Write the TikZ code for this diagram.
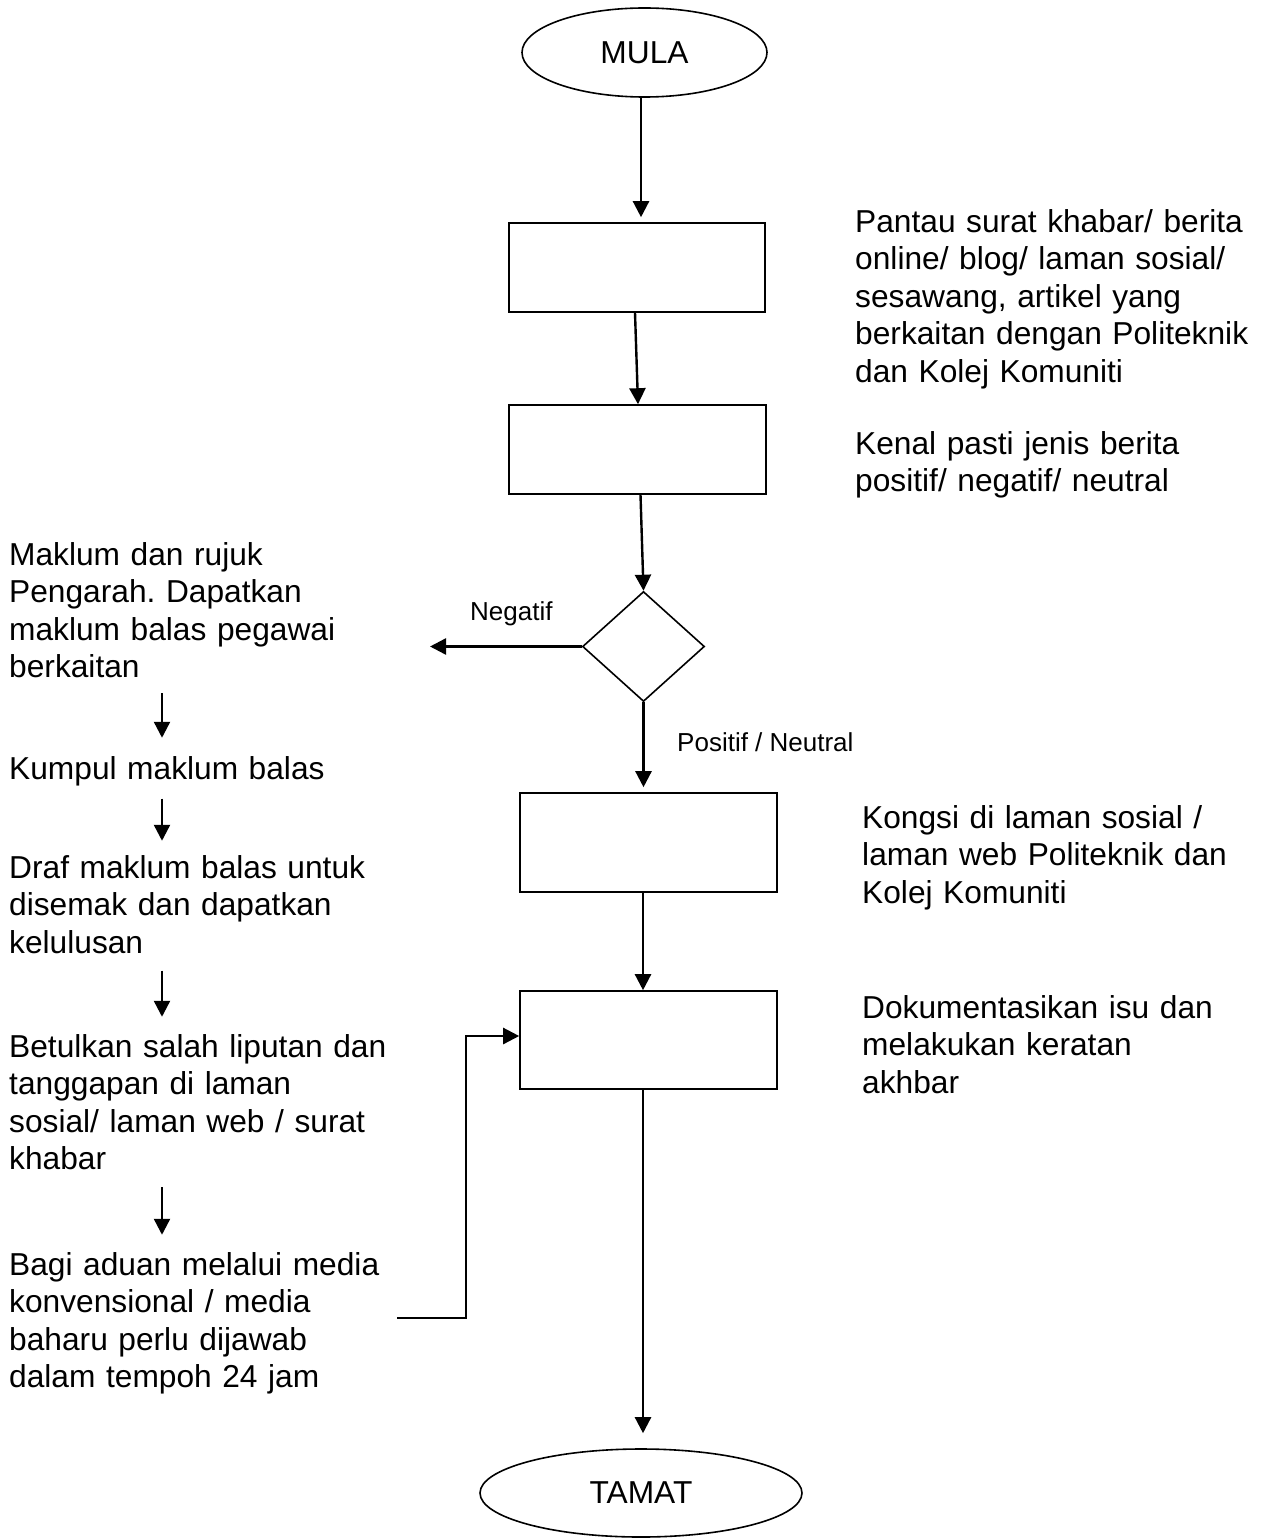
\documentclass[tikz,border=0pt]{standalone}
\usepackage{fontspec}
\setmainfont{Liberation Sans}
\usetikzlibrary{shapes.geometric,arrows.meta,calc}

\newcommand\txtbig{\fontsize{31.7pt}{37.5pt}\selectfont\frenchspacing}
\newcommand\txtsmall{\fontsize{26pt}{30pt}\selectfont\frenchspacing}

\tikzset{
  stepbox/.style={draw, rectangle, line width=1.6pt, inner sep=0pt},
  term/.style={draw, ellipse, line width=1.6pt, inner sep=0pt, font=\txtbig},
  decide/.style={draw, diamond, line width=1.6pt, inner sep=0pt},
  arr/.style={-{Triangle[width=16pt,length=16pt]}, line width=2.4pt},
  note/.style={anchor=north west, inner sep=0pt, text width=440pt, align=left, font=\txtbig},
  lbl/.style={anchor=base west, inner sep=0pt, font=\txtsmall},
}

\begin{document}
\begin{tikzpicture}[x=1pt, y=-1pt]
\useasboundingbox (0,0) rectangle (1267,1538);

% main flow
\node[term, minimum width=245pt, minimum height=89pt] (mula) at (644.5,52.5) {MULA};
\node[stepbox, minimum width=256pt, minimum height=89pt] (pantau) at (637,267.5) {};
\node[stepbox, minimum width=257pt, minimum height=89pt] (kenal) at (637.5,449.5) {};
\node[decide, minimum width=122pt, minimum height=110pt] (jenis) at (643.5,646.5) {};
\node[stepbox, minimum width=257pt, minimum height=99pt] (kongsi) at (648.5,842.5) {};
\node[stepbox, minimum width=257pt, minimum height=98pt] (dokumen) at (648.5,1040) {};
\node[term, minimum width=322pt, minimum height=88pt] (tamat) at (641,1493) {TAMAT};

% descriptions on the right
\node[note] (tpantau) at (855,205.75) {\strut Pantau surat khabar/ berita\\ online/ blog/ laman sosial/\\ sesawang, artikel yang\\ berkaitan dengan Politeknik\\ dan Kolej Komuniti\strut};
\node[note] (tkenal) at (855,427.75) {\strut Kenal pasti jenis berita\\ positif/ negatif/ neutral\strut};
\node[note] (tkongsi) at (862,801.75) {\strut Kongsi di laman sosial /\\ laman web Politeknik dan\\ Kolej Komuniti\strut};
\node[note] (tdokumen) at (862,991.75) {\strut Dokumentasikan isu dan\\ melakukan keratan\\ akhbar\strut};

% negative branch steps on the left
\node[note] (n1) at (9,538.75) {\strut Maklum dan rujuk\\ Pengarah. Dapatkan\\ maklum balas pegawai\\ berkaitan\strut};
\node[note] (n2) at (9,752.75) {\strut Kumpul maklum balas\strut};
\node[note] (n3) at (9,851.75) {\strut Draf maklum balas untuk\\ disemak dan dapatkan\\ kelulusan\strut};
\node[note] (n4) at (9,1030.75) {\strut Betulkan salah liputan dan\\ tanggapan di laman\\ sosial/ laman web / surat\\ khabar\strut};
\node[note] (n5) at (9,1248.75) {\strut Bagi aduan melalui media\\ konvensional / media\\ baharu perlu dijawab\\ dalam tempoh 24 jam\strut};

% branch labels
\node[lbl] (lneg) at (470,620) {Negatif};
\node[lbl] (lpos) at (677,751) {Positif / Neutral};

% connectors of the main flow
\draw[arr, shorten >=5pt] ([xshift=-3.5pt]mula.south) -- ([xshift=4pt]pantau.north);
\draw[arr] ([xshift=-2pt]pantau.south) -- ([xshift=0.5pt]kenal.north);
\draw[arr] ([xshift=3pt]kenal.south) -- (jenis.north);
\draw[arr, shorten >=5pt] (jenis.south) -- ([xshift=-5pt]kongsi.north);
\draw[arr] ([xshift=-5.5pt]kongsi.south) -- ([xshift=-5.5pt]dokumen.north);
\draw[arr, shorten >=15pt] ([xshift=-5.5pt]dokumen.south) -- ([xshift=2pt]tamat.north);

% negative branch
\coordinate (negend) at (430,646.5);
\draw[arr] (jenis.west) -- (negend);

\coordinate (lax) at (162,0);
\draw[arr, shorten <=4pt, shorten >=15pt] (lax |- n1.south) -- (lax |- n2.north);
\draw[arr, shorten <=8pt, shorten >=11pt] (lax |- n2.south) -- (lax |- n3.north);
\draw[arr, shorten <=6pt, shorten >=14pt] (lax |- n3.south) -- (lax |- n4.north);
\draw[arr, shorten <=6pt, shorten >=14pt] (lax |- n4.south) -- (lax |- n5.north);

% return to documentation step
\coordinate (fb) at (397,1318);
\draw[arr] (fb) -- ++(69,0) |- ([yshift=4pt]dokumen.west);
\end{tikzpicture}
\end{document}
